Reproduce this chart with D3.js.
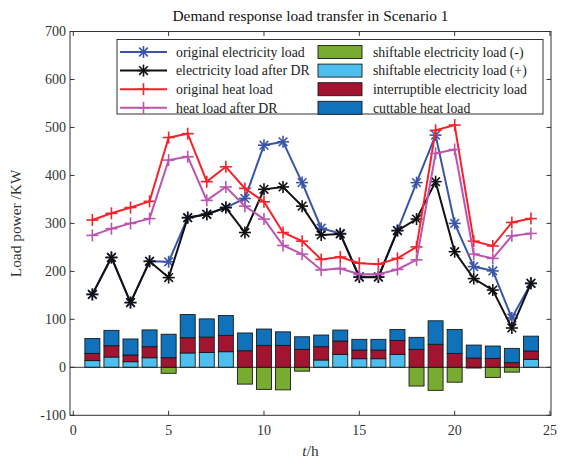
<!DOCTYPE html>
<html>
<head>
<meta charset="utf-8">
<script src="https://cdn.jsdelivr.net/npm/d3@7"></script>
<style>
  body { margin: 0; background: #fff; }
  svg { font-family: "Liberation Serif", "Times New Roman", serif; }
</style>
</head>
<body>
<svg id="chart" width="561" height="462"></svg>
<script>
// Hourly demand response results, Scenario 1 (kW)
const hours = d3.range(1, 25);

const origElec  = [152, 229, 135, 221, 220, 312, 319, 333, 352, 463, 470, 385, 290, 279, 189, 189, 285, 385, 484, 300, 210, 201, 103, 175];
const afterElec = [152, 229, 135, 221, 187, 312, 319, 333, 281, 371, 376, 336, 276, 278, 188, 188, 285, 309, 387, 241, 185, 161, 82, 175];
const origHeat  = [307, 321, 333, 346, 479, 487, 387, 418, 373, 345, 281, 263, 225, 230, 217, 215, 227, 251, 494, 505, 263, 253, 302, 310];
const afterHeat = [275, 289, 300, 310, 432, 439, 348, 376, 336, 309, 254, 236, 203, 206, 194, 194, 204, 224, 446, 454, 236, 227, 274, 279];

const shiftNeg  = [0, 0, 0, 0, -12.5, 0, 0, 0, -35, -46, -47, -8, 0, 0, 0, 0, 0, -39, -48, -31, -1.5, -21, -10, 0];
const shiftPos  = [14, 21.5, 11.7, 20, 0, 30, 31, 32.6, 0, 0, 0, 0, 15.3, 27, 18, 18, 27, 0, 0, 0, 0, 0, 0, 16.7];
const interrupt = [15, 23.5, 14, 23, 20, 31.7, 32, 34, 34.6, 45.8, 45.8, 37.5, 27.7, 27.8, 18, 18, 29, 37.5, 48, 29, 19.4, 18.7, 9.7, 17.3];
const cuttable  = [31, 32, 33.4, 35, 49, 48.3, 38, 41.3, 37, 34, 28.2, 26.2, 24.3, 22.9, 22.3, 22.3, 23, 25, 49, 50, 27, 25.7, 29.8, 31];

const xTicks = [0, 5, 10, 15, 20, 25];
const yTicks = [-100, 0, 100, 200, 300, 400, 500, 600, 700];

const lineSeries = [
  { name: "original electricity load", values: origElec,  color: "#3a55a8", marker: "star" },
  { name: "electricity load after DR", values: afterElec, color: "#111111", marker: "star" },
  { name: "original heat load",        values: origHeat,  color: "#f5222a", marker: "plus" },
  { name: "heat load after DR",        values: afterHeat, color: "#bb55b0", marker: "plus" }
];
const barSeries = [
  { name: "shiftable electricity load (-)", color: "#77ac30" },
  { name: "shiftable electricity load (+)", color: "#4dbeee" },
  { name: "interruptible electricity load", color: "#a2142f" },
  { name: "cuttable heat load",             color: "#0f72ba" }
];

const svg = d3.select("#chart");
const box = { left: 70, right: 551, top: 31.5, bottom: 415.3 };

const x = d3.scaleLinear().domain([0, 25]).range([73.3, 550]);
const y = d3.scaleLinear().domain([-100, 700]).range([box.bottom, box.top]);
const axisColor = "#333";

// stacked bars: positive parts stack upward from zero, the negative shift goes downward
const barW = 15;
const g = svg.append("g");
hours.forEach((h, i) => {
  const parts = [
    { lo: shiftNeg[i], hi: 0, c: barSeries[0].color },
    { lo: 0, hi: shiftPos[i], c: barSeries[1].color },
    { lo: shiftPos[i], hi: shiftPos[i] + interrupt[i], c: barSeries[2].color },
    { lo: shiftPos[i] + interrupt[i], hi: shiftPos[i] + interrupt[i] + cuttable[i], c: barSeries[3].color }
  ];
  parts.forEach(p => {
    if (p.hi - p.lo <= 0) return;
    g.append("rect")
      .attr("x", x(h) - barW / 2)
      .attr("y", y(p.hi))
      .attr("width", barW)
      .attr("height", y(p.lo) - y(p.hi))
      .attr("fill", p.c)
      .attr("stroke", "#1a1a1a")
      .attr("stroke-width", 0.9);
  });
});

// zero baseline
svg.append("line")
  .attr("x1", box.left).attr("x2", box.right)
  .attr("y1", y(0)).attr("y2", y(0))
  .attr("stroke", "#222").attr("stroke-width", 0.9);

function drawMarker(sel, type, cx, cy, color, r) {
  const gm = sel.append("g").attr("stroke", color).attr("stroke-width", 1.6).attr("fill", "none");
  gm.append("line").attr("x1", cx - r).attr("x2", cx + r).attr("y1", cy).attr("y2", cy);
  gm.append("line").attr("x1", cx).attr("x2", cx).attr("y1", cy - r).attr("y2", cy + r);
  if (type === "star") {
    const d = r * 0.72;
    gm.append("line").attr("x1", cx - d).attr("x2", cx + d).attr("y1", cy - d).attr("y2", cy + d);
    gm.append("line").attr("x1", cx - d).attr("x2", cx + d).attr("y1", cy + d).attr("y2", cy - d);
  }
}

const line = d3.line().x((d, i) => x(hours[i])).y(d => y(d));
lineSeries.forEach(s => {
  svg.append("path")
    .datum(s.values)
    .attr("d", line)
    .attr("fill", "none")
    .attr("stroke", s.color)
    .attr("stroke-width", 2);
  s.values.forEach((v, i) => drawMarker(svg, s.marker, x(hours[i]), y(v), s.color, 6));
});

// axes box with inward ticks on all four sides
const axes = svg.append("g");
axes.append("rect")
  .attr("x", box.left).attr("y", box.top)
  .attr("width", box.right - box.left).attr("height", box.bottom - box.top)
  .attr("fill", "none").attr("stroke", axisColor).attr("stroke-width", 1);

const tl = 4.5;
xTicks.forEach(t => {
  axes.append("line").attr("x1", x(t)).attr("x2", x(t)).attr("y1", box.bottom).attr("y2", box.bottom - tl).attr("stroke", axisColor);
  axes.append("line").attr("x1", x(t)).attr("x2", x(t)).attr("y1", box.top).attr("y2", box.top + tl).attr("stroke", axisColor);
  axes.append("text").attr("x", x(t)).attr("y", box.bottom + 20)
    .attr("text-anchor", "middle").attr("font-size", 14).attr("fill", "#333").text(t);
});
yTicks.forEach(t => {
  axes.append("line").attr("x1", box.left).attr("x2", box.left + tl).attr("y1", y(t)).attr("y2", y(t)).attr("stroke", axisColor);
  axes.append("line").attr("x1", box.right).attr("x2", box.right - tl).attr("y1", y(t)).attr("y2", y(t)).attr("stroke", axisColor);
  axes.append("text").attr("x", box.left - 4).attr("y", y(t)).attr("dy", "0.35em")
    .attr("text-anchor", "end").attr("font-size", 14).attr("fill", "#333").text(t);
});

// title and axis labels
svg.append("text").attr("x", (box.left + box.right) / 2).attr("y", 21)
  .attr("text-anchor", "middle").attr("font-size", 15.4).attr("fill", "#111")
  .text("Demand response load transfer in Scenario 1");

svg.append("text")
  .attr("transform", `translate(21,${(box.top + box.bottom) / 2}) rotate(-90)`)
  .attr("text-anchor", "middle").attr("font-size", 15.4).attr("fill", "#333")
  .text("Load power /KW");

const xl = svg.append("text").attr("x", (box.left + box.right) / 2).attr("y", 456)
  .attr("text-anchor", "middle").attr("font-size", 15.4).attr("fill", "#333");
xl.append("tspan").attr("font-style", "italic").text("t");
xl.append("tspan").text("/h");

// legend
const lg = svg.append("g");
const lgBox = { x: 117, y: 39.5, w: 426, h: 74.5 };
lg.append("rect").attr("x", lgBox.x).attr("y", lgBox.y).attr("width", lgBox.w).attr("height", lgBox.h)
  .attr("fill", "#fff").attr("stroke", "#333").attr("stroke-width", 1);
const rowY = i => 52 + i * 18.6;
lineSeries.forEach((s, i) => {
  lg.append("line").attr("x1", 120).attr("x2", 167).attr("y1", rowY(i)).attr("y2", rowY(i))
    .attr("stroke", s.color).attr("stroke-width", 2);
  drawMarker(lg, s.marker, 143.5, rowY(i), s.color, 6);
  lg.append("text").attr("x", 176).attr("y", rowY(i)).attr("dy", "0.35em")
    .attr("font-size", 13.8).attr("fill", "#222").text(s.name);
});
barSeries.forEach((s, i) => {
  lg.append("rect").attr("x", 318).attr("y", rowY(i) - 6.5).attr("width", 44).attr("height", 13)
    .attr("fill", s.color).attr("stroke", "#1a1a1a").attr("stroke-width", 0.9);
  lg.append("text").attr("x", 373).attr("y", rowY(i)).attr("dy", "0.35em")
    .attr("font-size", 13.8).attr("fill", "#222").text(s.name);
});
</script>
</body>
</html>
